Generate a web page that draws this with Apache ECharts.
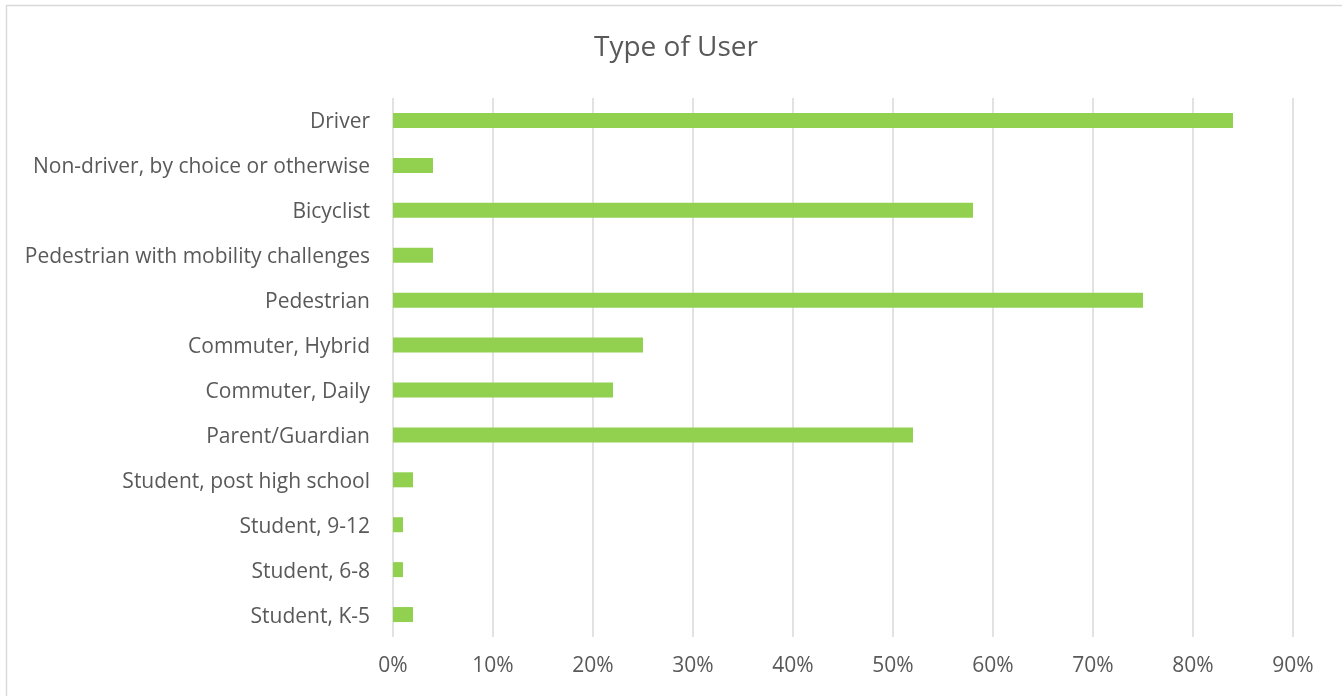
<!DOCTYPE html>
<html>
<head>
<meta charset="utf-8">
<script src="https://cdn.jsdelivr.net/npm/echarts@6/dist/echarts.min.js"></script>
<style>
  html, body { margin: 0; padding: 0; background: #fff; }
  #chart { width: 1342px; height: 696px; }
</style>
</head>
<body>
<div id="chart"></div>
<script>
// User types, top to bottom
const categories = [
  'Driver',
  'Non-driver, by choice or otherwise',
  'Bicyclist',
  'Pedestrian with mobility challenges',
  'Pedestrian',
  'Commuter, Hybrid',
  'Commuter, Daily',
  'Parent/Guardian',
  'Student, post high school',
  'Student, 9-12',
  'Student, 6-8',
  'Student, K-5'
];
// Share of respondents, in percent
const shares = [84, 4, 58, 4, 75, 25, 22, 52, 2, 1, 1, 2];

const FONT = '"Open Sans"';
const TEXT = '#595959';

const chart = echarts.init(document.getElementById('chart'), null, { renderer: 'canvas' });
chart.setOption({
  animation: false,
  backgroundColor: '#ffffff',
  title: {
    text: 'Type of User',
    left: 589,
    top: 29,
    textStyle: { fontFamily: FONT, fontSize: 28, fontWeight: 'normal', color: TEXT }
  },
  graphic: [{
    type: 'rect',
    shape: { x: 6.5, y: 5.5, width: 1400, height: 800 },
    style: { fill: 'none', stroke: '#d9d9d9', lineWidth: 1.5 },
    silent: true,
    z: -1
  }],
  grid: { left: 393, right: 49, top: 98, bottom: 59, containLabel: false },
  xAxis: {
    type: 'value',
    min: 0,
    max: 90,
    interval: 10,
    axisLine: { show: false },
    axisTick: { show: false },
    splitLine: { show: true, lineStyle: { color: '#d9d9d9', width: 1.5 } },
    axisLabel: {
      formatter: v => v + '%',
      color: TEXT, fontFamily: FONT, fontSize: 21, margin: 19
    }
  },
  yAxis: {
    type: 'category',
    data: categories,
    inverse: true,
    axisLine: { show: false },
    axisTick: { show: false },
    axisLabel: { color: TEXT, fontFamily: FONT, fontSize: 21, margin: 23, lineHeight: 26, verticalAlign: 'top', padding: [-11, 0, 0, 0] }
  },
  series: [{
    type: 'bar',
    data: shares,
    barWidth: 15,
    itemStyle: { color: '#92d050' }
  }]
});
</script>
</body>
</html>
